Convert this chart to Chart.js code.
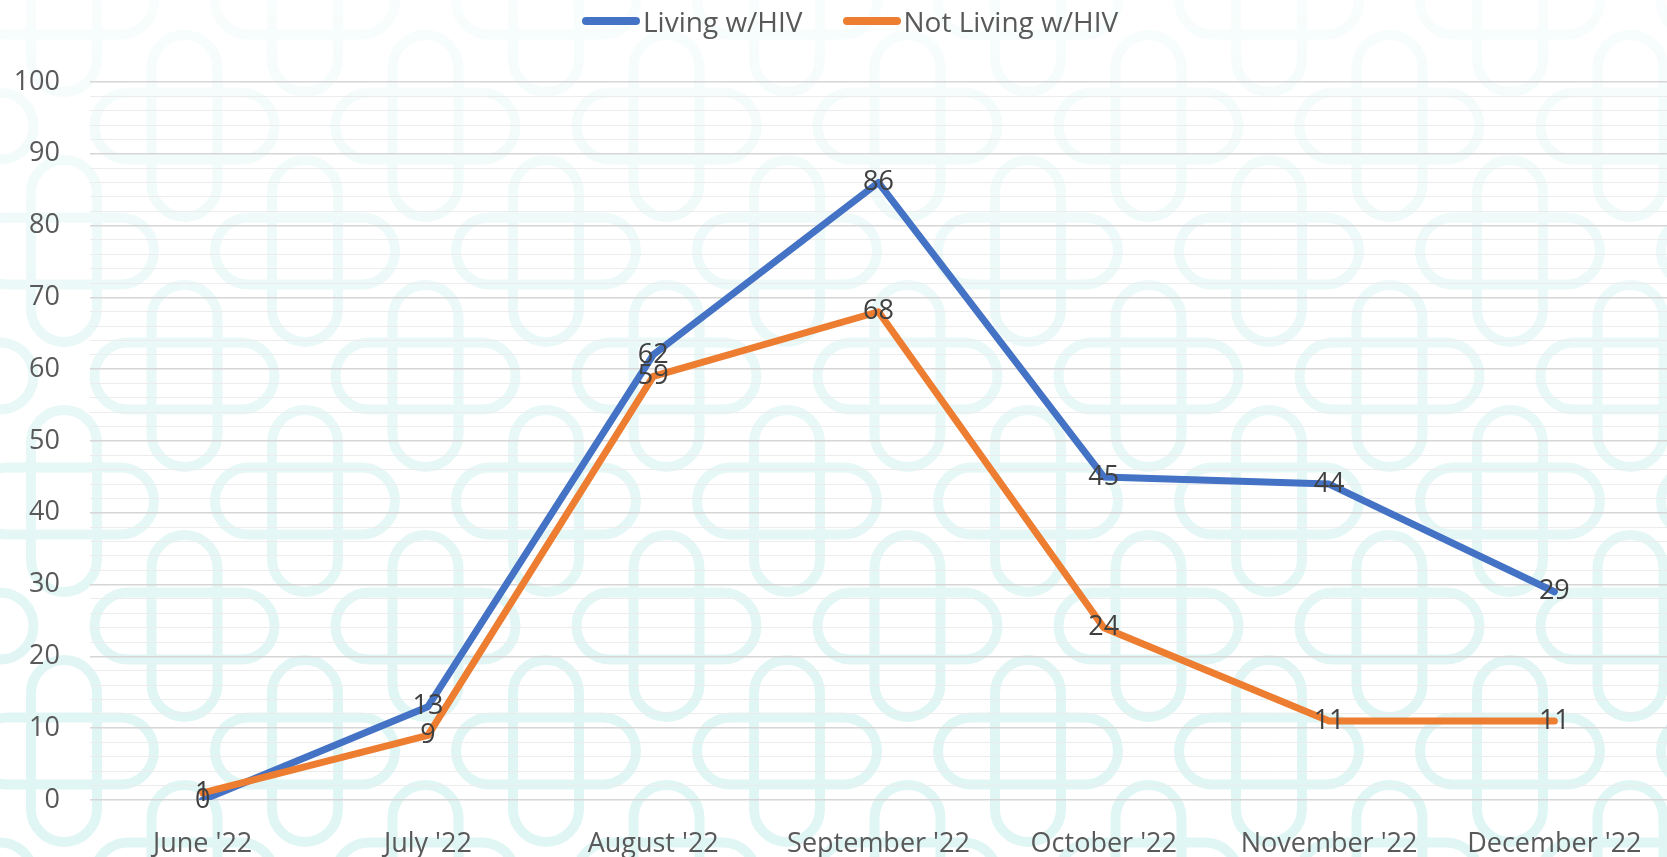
<!DOCTYPE html>
<html>
<head>
<meta charset="utf-8">
<script src="https://cdn.jsdelivr.net/npm/chart.js@4.4.0/dist/chart.umd.min.js"></script>
<style>
  html, body { margin: 0; padding: 0; background: #fff; }
  #wrap { position: relative; width: 1667px; height: 857px; overflow: hidden; background-color: #fff; }
  #chart { position: absolute; left: 0; top: 0; }
  #legend { position: absolute; left: 582px; top: 0; height: 42px; display: flex; align-items: center;
            font-family: "Open Sans", sans-serif; font-size: 28px; color: #595959; white-space: nowrap; }
  #legend .item { display: flex; align-items: center; margin-right: 40px; }
  #legend .swatch { width: 58px; height: 8px; border-radius: 4px; margin-right: 3px; }
</style>
</head>
<body>
<div id="wrap">
  <canvas id="chart" width="1667" height="857"></canvas>
  <div id="legend"></div>
</div>
<script>
const months = ["June '22", "July '22", "August '22", "September '22", "October '22", "November '22", "December '22"];
const livingHiv = [0, 13, 62, 86, 45, 44, 29];
const notLivingHiv = [1, 9, 59, 68, 24, 11, 11];
const yTicks = [0, 10, 20, 30, 40, 50, 60, 70, 80, 90, 100];

const blue = '#4472C4';
const orange = '#ED7D31';
const font = '"Open Sans", sans-serif';

// faint watermark pattern behind the chart
function motif(cx, cy) {
    return `<rect x="${cx - 33}" y="${cy - 91}" width="66" height="182" rx="33"/>` +
           `<rect x="${cx - 90}" y="${cy - 33.5}" width="180" height="67" rx="33.5"/>`;
}
const svg = `<svg xmlns="http://www.w3.org/2000/svg" width="241" height="250">` +
    `<g fill="none" stroke="#e0f6f4" stroke-width="10">` +
    motif(0, 0) + motif(241, 0) + motif(0, 250) + motif(241, 250) + motif(120.5, 125) +
    `</g></svg>`;
const wrap = document.getElementById('wrap');
wrap.style.backgroundImage =
    'linear-gradient(to bottom, rgba(255,255,255,0.8) 0px, rgba(255,255,255,0.35) 300px, rgba(255,255,255,0) 700px), ' +
    'url("data:image/svg+xml,' + encodeURIComponent(svg) + '")';
wrap.style.backgroundPosition = '0 0, 64px 1px';

const valueLabels = {
    id: 'valueLabels',
    afterDatasetsDraw(chart) {
        const ctx = chart.ctx;
        ctx.save();
        ctx.font = `27px ${font}`;
        ctx.fillStyle = '#404040';
        ctx.textAlign = 'center';
        ctx.textBaseline = 'middle';
        chart.data.datasets.forEach((ds, i) => {
            const meta = chart.getDatasetMeta(i);
            meta.data.forEach((pt, j) => {
                ctx.fillText(String(ds.data[j]), pt.x, pt.y);
            });
        });
        ctx.restore();
    }
};

function draw() {
    const chart = new Chart(document.getElementById('chart'), {
        type: 'line',
        data: {
            labels: months,
            datasets: [{
                label: 'Living w/HIV',
                data: livingHiv,
                borderColor: blue,
                backgroundColor: blue,
                order: 2
            }, {
                label: 'Not Living w/HIV',
                data: notLivingHiv,
                borderColor: orange,
                backgroundColor: orange,
                order: 1
            }]
        },
        options: {
            responsive: false,
            animation: false,
            layout: { padding: { top: 82, left: 0, right: 0, bottom: 0 } },
            elements: {
                line: { borderWidth: 7, borderCapStyle: 'round', borderJoinStyle: 'round', tension: 0 },
                point: { radius: 0, hoverRadius: 0 }
            },
            plugins: {
                legend: { display: false },
                tooltip: { enabled: false }
            },
            scales: {
                x: {
                    offset: true,
                    afterFit: s => { s.height = 57; },
                    grid: { display: false },
                    border: { display: false },
                    ticks: { color: '#595959', padding: 20, maxRotation: 0, autoSkip: false,
                             font: { family: font, size: 27 } }
                },
                y: {
                    min: 0,
                    max: 100,
                    afterFit: s => { s.width = 90; },
                    border: { display: false },
                    grid: {
                        drawTicks: false,
                        color: c => yTicks.includes(c.tick.value) ? '#d6d6d6' : '#ececec',
                        lineWidth: c => yTicks.includes(c.tick.value) ? 1.5 : 1
                    },
                    ticks: {
                        stepSize: 2,
                        autoSkip: false,
                        padding: 30,
                        color: '#595959',
                        font: { family: font, size: 27 },
                        callback: v => yTicks.includes(v) ? v : ''
                    }
                }
            }
        },
        plugins: [valueLabels]
    });

    const legend = document.getElementById('legend');
    chart.data.datasets.forEach(ds => {
        const item = document.createElement('div');
        item.className = 'item';
        const sw = document.createElement('span');
        sw.className = 'swatch';
        sw.style.background = ds.borderColor;
        const tx = document.createElement('span');
        tx.textContent = ds.label;
        item.appendChild(sw);
        item.appendChild(tx);
        legend.appendChild(item);
    });
}

document.fonts.load(`27px ${font}`).then(draw, draw);
</script>
</body>
</html>
